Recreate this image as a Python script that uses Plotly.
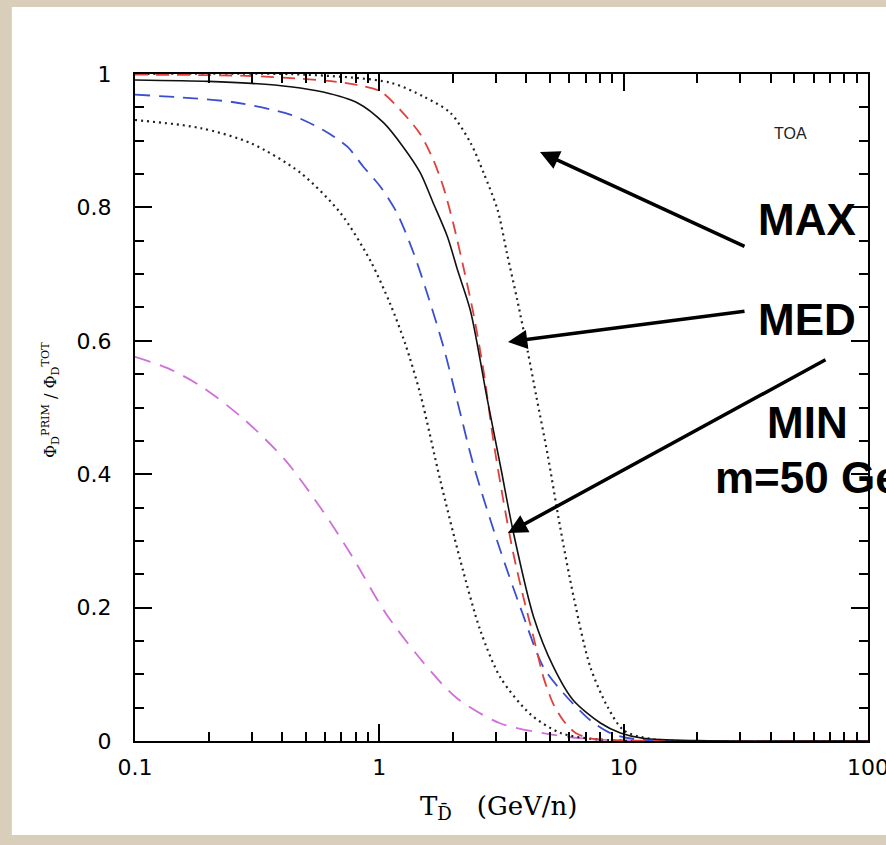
import plotly.graph_objects as go

# ---- data ----
solid_x = [0.1, 0.2, 0.3, 0.432, 0.589, 0.812, 1.04, 1.25, 1.47, 1.66, 1.90, 2.09, 2.36, 2.77, 3.14, 3.54, 4.28, 5.16, 6.22, 8.03, 9.7, 12, 20, 100]
solid_y = [0.991, 0.989, 0.986, 0.981, 0.973, 0.957, 0.927, 0.891, 0.852, 0.807, 0.756, 0.706, 0.645, 0.511, 0.41, 0.312, 0.186, 0.111, 0.061, 0.027, 0.012, 0.004, 0.0005, 0.0]

red_x = [0.1, 0.3, 0.6, 0.8, 1.01, 1.22, 1.47, 1.66, 1.83, 2.01, 2.21, 2.43, 2.67, 2.93, 3.22, 3.54, 3.89, 4.28, 4.70, 5.16, 5.68, 6.36, 7.32, 10, 100]
red_y = [0.999, 0.997, 0.99, 0.984, 0.974, 0.946, 0.91, 0.872, 0.83, 0.775, 0.71, 0.64, 0.555, 0.45, 0.36, 0.28, 0.215, 0.155, 0.095, 0.055, 0.03, 0.012, 0.004, 0.001, 0.0]

blue_x = [0.1, 0.25, 0.432, 0.589, 0.74, 0.86, 1.01, 1.18, 1.38, 1.57, 1.83, 2.08, 2.44, 3.1, 3.78, 4.69, 5.66, 7.3, 8.8, 11, 100]
blue_y = [0.969, 0.958, 0.939, 0.916, 0.891, 0.861, 0.831, 0.792, 0.732, 0.671, 0.591, 0.511, 0.411, 0.29, 0.20, 0.111, 0.072, 0.031, 0.012, 0.003, 0.0]

dotlo_x = [0.1, 0.185, 0.299, 0.475, 0.692, 0.919, 1.109, 1.278, 1.472, 1.778, 2.148, 2.594, 3.133, 4.157, 5.52, 8.05, 100]
dotlo_y = [0.931, 0.919, 0.896, 0.852, 0.792, 0.72, 0.655, 0.595, 0.52, 0.39, 0.27, 0.165, 0.095, 0.04, 0.012, 0.002, 0.0]

dothi_x = [0.1, 0.5, 1.11, 1.52, 1.95, 2.36, 2.67, 3.05, 3.33, 3.67, 4.04, 4.4, 4.88, 5.5, 6.25, 7.3, 8.6, 10, 13, 100]
dothi_y = [1.0, 0.999, 0.987, 0.966, 0.942, 0.897, 0.852, 0.796, 0.731, 0.661, 0.586, 0.515, 0.43, 0.32, 0.215, 0.111, 0.051, 0.016, 0.003, 0.0]

mag_x = [0.1, 0.136, 0.188, 0.282, 0.412, 0.584, 0.776, 1.06, 1.45, 2.05, 3.1, 5.0, 8.0, 100]
mag_y = [0.576, 0.559, 0.531, 0.481, 0.421, 0.346, 0.276, 0.192, 0.126, 0.066, 0.027, 0.010, 0.002, 0.0]

x_tickvals = [0.1, 1, 10, 100]
x_ticktext = ["0.1", "1", "10", "100"]
y_tickvals = [0, 0.2, 0.4, 0.6, 0.8, 1]
y_ticktext = ["0", "0.2", "0.4", "0.6", "0.8", "1"]

fig = go.Figure()

def add(x, y, color, dash, width):
    fig.add_trace(go.Scatter(x=x, y=y, mode="lines",
                             line=dict(color=color, dash=dash, width=width, shape="spline", smoothing=0.8),
                             showlegend=False, hoverinfo="skip"))

add(mag_x, mag_y, "#d070d8", "16px,10px", 1.8)
add(dotlo_x, dotlo_y, "#222222", "2px,4px", 2.2)
add(dothi_x, dothi_y, "#222222", "2px,4px", 2.2)
add(blue_x, blue_y, "#3a4fd0", "15px,9px", 1.8)
add(red_x, red_y, "#e0403a", "13px,8px", 1.8)
add(solid_x, solid_y, "#111111", "solid", 1.6)

tickfont = dict(family="DejaVu Sans", size=22, color="black")

fig.update_xaxes(type="log", range=[-1, 2], tickvals=x_tickvals, ticktext=x_ticktext,
                 ticks="inside", ticklen=17, tickwidth=2, tickcolor="black",
                 showline=True, linecolor="black", linewidth=2, mirror="allticks",
                 showgrid=False, zeroline=False, tickfont=tickfont, ticklabelstandoff=6,
                 ticklabeloverflow="allow", automargin=False,
                 minor=dict(ticks="inside", ticklen=9, tickwidth=1.5, tickcolor="black",
                            dtick="D1", showgrid=False))
fig.update_yaxes(range=[0, 1], tickvals=y_tickvals, ticktext=y_ticktext,
                 ticks="inside", ticklen=17, tickwidth=2, tickcolor="black",
                 showline=True, linecolor="black", linewidth=2, mirror="allticks",
                 showgrid=False, zeroline=False, tickfont=tickfont, ticklabelstandoff=17,
                 automargin=False,
                 minor=dict(ticks="inside", ticklen=9, tickwidth=1.5, tickcolor="black",
                            dtick=0.05, showgrid=False))

# white panel on beige page
fig.add_shape(type="rect", xref="paper", yref="paper", x0=-0.168, x1=1.05, y0=-0.141, y1=1.1004,
              fillcolor="white", line=dict(width=0), layer="below")

big = dict(family="Comic Sans MS, Liberation Sans, Arial", size=44, color="black")
ann = [
    dict(x=0.8936, y=0.9115, text="TOA", font=dict(family="Liberation Sans", size=16, color="#222")),
    dict(x=0.9168, y=0.7826, text="<b>MAX</b>", font=big),
    dict(x=0.9168, y=0.6312, text="<b>MED</b>", font=big),
    dict(x=0.9168, y=0.4768, text="<b>MIN</b>", font=big),
    dict(x=0.7885, y=0.3958, text="<b>m=50 GeV</b>", font=big, xanchor="left"),
    dict(x=(50 - 135) / 733, y=(741 - 400) / 667, textangle=-90,
         text="Φ<sub>D</sub><sup>PRIM</sup> / Φ<sub>D</sub><sup>TOT</sup>",
         font=dict(family="DejaVu Serif", size=16, color="black")),
    dict(x=(498 - 135) / 733, y=(741 - 807) / 667,
         text="T<sub>D̄</sub>\u00a0\u00a0\u00a0(GeV/n)",
         font=dict(family="DejaVu Serif", size=26, color="black")),
]
for a in ann:
    a.setdefault("xanchor", "center")
    fig.add_annotation(xref="paper", yref="paper", showarrow=False, yanchor="middle", **a)

arrows = [
    ((540, 152), (746, 247)),
    ((508, 342), (746, 311)),
    ((508, 533), (827, 359)),
]
for (hx, hy), (tx, ty) in arrows:
    fig.add_annotation(xref="paper", yref="paper", x=(hx - 135) / 733, y=(741 - hy) / 667,
                       ax=tx - hx, ay=ty - hy, text="", showarrow=True,
                       arrowhead=2, arrowsize=1.1, arrowwidth=3.5, arrowcolor="black", standoff=0)

fig.update_layout(width=886, height=845,
                  margin=dict(l=135, r=18, t=74, b=104, autoexpand=False),
                  paper_bgcolor="#d8ceba", plot_bgcolor="white")

fig.write_html("out.html", config={"displayModeBar": False},
               post_script="document.body.style.margin='0';document.body.style.overflow='hidden';")
